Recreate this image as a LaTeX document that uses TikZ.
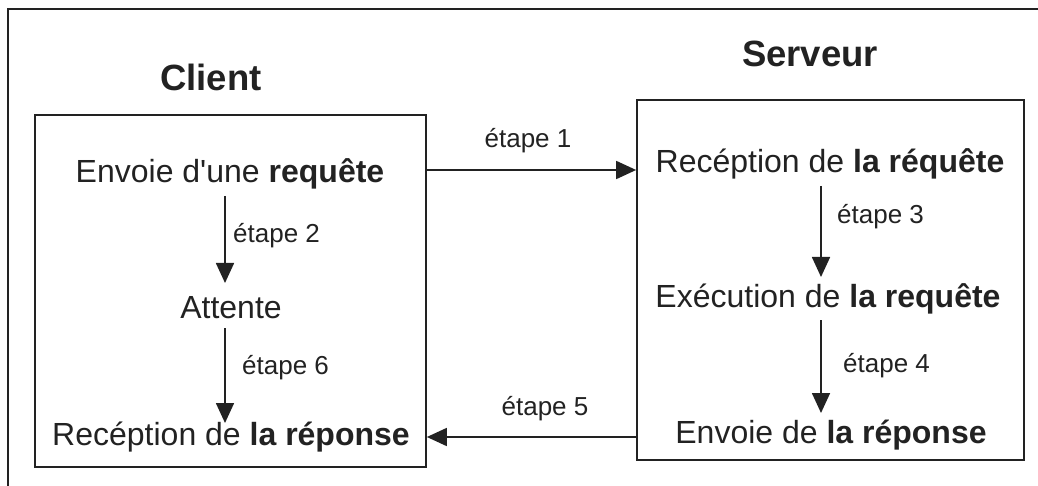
\documentclass[tikz,border=0pt]{standalone}
\usepackage{fontspec}
\setmainfont{Liberation Sans}
\usetikzlibrary{arrows.meta}
\definecolor{ink}{HTML}{222222}
\tikzset{
  frameline/.style={draw=ink, line width=1.7pt},
  boxnode/.style={draw=ink, line width=1.7pt, rectangle, inner sep=0pt},
  maintext/.style={text=ink, inner sep=0pt, anchor=base, font=\fontsize{32}{38}\selectfont},
  titletext/.style={text=ink, inner sep=0pt, anchor=base, font=\fontsize{36.5}{43}\selectfont\bfseries},
  steplabel/.style={text=ink, inner sep=0pt, font=\fontsize{26}{31}\selectfont},
  flow/.style={draw=ink, line width=1.7pt, -{Triangle[length=20pt,width=18pt]}}
}
\begin{document}
\begin{tikzpicture}[x=1pt,y=-1pt]
\useasboundingbox (0,0) rectangle (1038,486);
% outer frame
\draw[frameline] (8,486) -- (8,9) -- (1038,9);
% titles
\node[titletext] (tclient) at (211,91) {Client};
\node[titletext] (tserveur) at (810,67) {Serveur};
% boxes
\node[boxnode, minimum width=391pt, minimum height=352pt] (cbox) at (230.5,291) {};
\node[boxnode, minimum width=387pt, minimum height=360pt] (sbox) at (830.5,280) {};
% client texts
\node[maintext] (c1) at (230,183) {Envoie d\textquotesingle une \textbf{requête}};
\node[maintext] (c2) at (231,318) {Attente};
\node[maintext] (c3) at (231,445) {Recéption de \textbf{la réponse}};
% server texts
\node[maintext] (s1) at (830,173) {Recéption de \textbf{la réquête}};
\node[maintext] (s2) at (828,307) {Exécution de \textbf{la requête}};
\node[maintext] (s3) at (831,443) {Envoie de \textbf{la réponse}};
% arrow coordinates
\coordinate (a2s) at (225,196);
\coordinate (a2e) at (225,283);
\coordinate (a6s) at (225,328);
\coordinate (a6e) at (225,423);
\coordinate (a3s) at (821,186);
\coordinate (a3e) at (821,277);
\coordinate (a4s) at (821,320);
\coordinate (a4e) at (821,413);
\coordinate (h1) at (530,170);
\coordinate (h5) at (530,437);
% arrows
\draw[flow] (cbox.east |- h1) -- (sbox.west |- h1);
\draw[flow] (sbox.west |- h5) -- (cbox.east |- h5);
\draw[flow] (a2s) -- (a2e);
\draw[flow] (a6s) -- (a6e);
\draw[flow] (a3s) -- (a3e);
\draw[flow] (a4s) -- (a4e);
% step labels
\node[steplabel, anchor=base] (l1) at (528,148) {étape 1};
\node[steplabel, anchor=base] (l5) at (545,415) {étape 5};
\node[steplabel, anchor=base west] (l2) at (233,243) {étape 2};
\node[steplabel, anchor=base west] (l6) at (242,374) {étape 6};
\node[steplabel, anchor=base west] (l3) at (837,224) {étape 3};
\node[steplabel, anchor=base west] (l4) at (843,372) {étape 4};
\end{tikzpicture}
\end{document}
